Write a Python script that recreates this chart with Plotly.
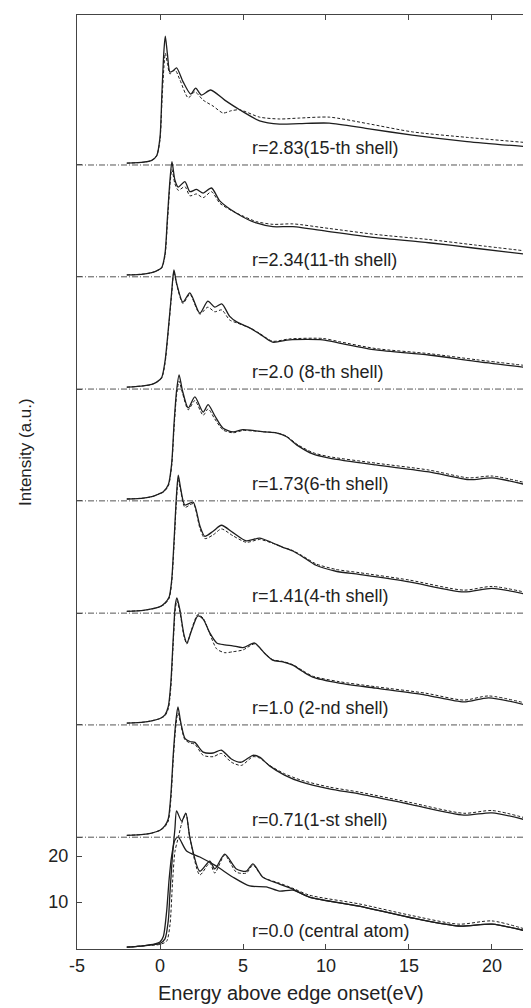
import plotly.graph_objects as go

# ---- data (energy in eV, intensity in a.u. relative to each panel baseline) ----
labels = ["r=0.0 (central atom)", "r=0.71(1-st shell)", "r=1.0 (2-nd shell)",
          "r=1.41(4-th shell)", "r=1.73(6-th shell)", "r=2.0 (8-th shell)",
          "r=2.34(11-th shell)", "r=2.83(15-th shell)"]
offsets = [0.0, 24.1, 48.5, 72.8, 97.2, 121.5, 145.9, 170.2]

# central atom (three curves)
c0_x_a = [-2, -1, -0.3, 0, 0.3, 0.5, 0.6, 0.75, 0.9, 1.0, 1.3, 1.56, 1.8, 2.4, 3.0, 3.3, 3.9, 4.6, 5.2, 5.6, 6.2, 7.2, 8.0, 9.0, 12, 15, 18, 20, 22.3]
c0_y_a = [0.2, 0.5, 0.8, 1.0, 2.0, 6, 12, 20, 26, 29.8, 27.6, 29.3, 24, 16.7, 18.9, 17.2, 20.4, 17.2, 16.7, 18.3, 15.4, 13.9, 12.8, 11.1, 9.1, 6.7, 4.8, 5.2, 3.5]
c0_x_b = [-2, -1, 0, 0.4, 0.6, 0.75, 0.9, 1.1, 1.3, 1.56, 1.8, 2.4, 3.0, 3.3, 3.9, 4.6, 5.2, 5.6, 6.2, 7.2, 8.0, 9.0, 12, 15, 18, 20, 22.3]
c0_y_b = [0.2, 0.5, 0.8, 1.5, 5, 14, 21, 24, 27, 29.3, 24, 15.9, 18.5, 16.3, 20.2, 16.5, 16.3, 18.0, 15.4, 14.1, 13.0, 11.5, 9.6, 7.2, 5.2, 5.9, 3.8]
c0_x_c = [-2, -1, -0.3, 0, 0.2, 0.4, 0.55, 0.7, 0.9, 1.1, 1.6, 2.4, 3.4, 4.4, 5.4, 6.4, 7.2, 8.0, 9.0, 12, 15, 18, 20, 22.3]
c0_y_c = [0.2, 0.5, 0.9, 1.3, 2.5, 8, 15, 20, 23.5, 24.1, 21.1, 19.8, 17.8, 15.4, 13.5, 13.3, 12.4, 12.6, 11.1, 9.1, 6.7, 4.8, 5.2, 3.5]

# r = 0.71
s1_x = [-2, -1, -0.5, 0, 0.3, 0.5, 0.65, 0.8, 0.95, 1.08, 1.25, 1.5, 1.8, 2.1, 2.6, 3.2, 3.7, 4.3, 4.9, 5.6, 6.0, 6.6, 7.5, 8.5, 10.2, 12, 15, 18.3, 20, 22.3]
s1_y = [0.4, 0.6, 0.9, 1.5, 2.5, 4, 9, 18, 25, 28.3, 25, 21.5, 20.8, 20.6, 18.5, 18.3, 18.9, 17, 16.3, 17.8, 17.4, 15.5, 13.5, 12, 10.5, 9.4, 7.2, 4.8, 5.3, 3.5]
s1_yd = [0.4, 0.6, 0.9, 1.5, 2.3, 3.5, 8, 17, 24, 27.0, 24.5, 21.2, 20.5, 20.2, 17.8, 17.5, 18.2, 16.3, 15.6, 17.5, 17.2, 15.6, 13.8, 12.4, 10.9, 9.8, 7.6, 5.2, 5.8, 3.9]

# r = 1.0
s2_x = [-2, -1, -0.5, 0, 0.3, 0.5, 0.65, 0.8, 0.92, 1.02, 1.2, 1.45, 1.62, 1.9, 2.28, 2.6, 3.0, 3.42, 3.9, 4.38, 5.0, 5.7, 6.3, 6.78, 7.4, 8.0, 8.6, 9.2, 10.8, 13, 16, 18.3, 19.8, 22.3]
s2_y = [0.4, 0.6, 0.9, 1.4, 2.2, 4, 9, 19, 26, 27.6, 25, 19.5, 17.8, 20.5, 23.7, 23, 20, 17.8, 17.4, 17.2, 16.8, 17.8, 15.6, 14.1, 13.7, 13.0, 11.6, 10.4, 9.1, 8.0, 6.5, 5.0, 5.9, 4.1]
s2_yd = [0.4, 0.6, 0.9, 1.4, 2.0, 3.5, 8, 18, 25, 27.0, 24.5, 19.2, 17.6, 20.8, 24.0, 23.2, 19.8, 16.5, 15.7, 15.9, 16.3, 17.6, 15.6, 14.2, 13.8, 13.1, 11.8, 10.6, 9.4, 8.3, 6.9, 5.4, 6.3, 4.5]

# r = 1.41
s3_x = [-2, -1, -0.5, 0, 0.3, 0.55, 0.7, 0.85, 1.0, 1.1, 1.25, 1.5, 2.0, 2.4, 2.7, 3.2, 3.7, 4.4, 5.2, 6.0, 6.7, 7.4, 8.0, 8.7, 9.4, 10.6, 12, 15, 18.3, 20, 22.3]
s3_y = [0.4, 0.6, 0.9, 1.4, 2.2, 3.5, 7, 16, 26, 30, 27, 23.5, 24.1, 19, 16.7, 17.8, 19.1, 17.5, 15.7, 16.3, 15.4, 14.3, 13.5, 12, 10.4, 9.1, 8.4, 6.8, 4.6, 5.4, 3.9]
s3_yd = [0.4, 0.6, 0.9, 1.4, 2.0, 3.2, 6.5, 15, 25, 29, 26.5, 23.0, 23.8, 18.5, 16.2, 17.0, 18.3, 16.8, 15.4, 16.0, 15.3, 14.3, 13.6, 12.2, 10.7, 9.5, 8.8, 7.2, 5.0, 5.8, 4.3]

# r = 1.73
s4_x = [-2, -1, -0.5, -0.2, 0.2, 0.5, 0.7, 0.85, 1.0, 1.15, 1.35, 1.7, 2.1, 2.6, 2.9, 3.3, 3.8, 4.4, 5.0, 5.6, 6.3, 7.0, 7.6, 8.3, 9.2, 10.2, 13, 16.2, 18.6, 20, 22.3]
s4_y = [0.4, 0.6, 0.9, 1.3, 2.0, 3.5, 8, 17, 24, 27.4, 24, 20.2, 22.6, 19.3, 20.9, 18.5, 15.8, 15.0, 15.5, 15.3, 15.0, 14.8, 14.0, 12.0, 10.2, 9.3, 7.8, 6.3, 4.6, 5.0, 3.3]
s4_yd = [0.4, 0.6, 0.9, 1.3, 1.9, 3.2, 7.5, 16, 23, 26.0, 23.5, 19.8, 21.8, 18.6, 20.0, 17.8, 15.4, 14.8, 15.3, 15.2, 15.0, 14.8, 14.1, 12.2, 10.5, 9.6, 8.2, 6.7, 5.0, 5.4, 3.7]

# r = 2.0
s5_x = [-2, -1, -0.5, -0.2, 0.1, 0.3, 0.5, 0.7, 0.84, 1.0, 1.38, 1.8, 2.4, 2.88, 3.3, 3.72, 4.2, 4.62, 5.4, 6.0, 6.78, 7.8, 9.8, 10.8, 13, 16.2, 19, 22.3]
s5_y = [0.4, 0.7, 1.0, 1.5, 2.5, 6, 13, 21, 25.9, 23, 18.9, 20.9, 16.5, 19.1, 17.8, 18.5, 15.8, 14.6, 13.3, 12, 10.2, 10.7, 10.7, 10.0, 8.5, 7.4, 6.0, 4.6]
s5_yd = [0.4, 0.7, 1.0, 1.5, 2.4, 5.5, 12.5, 20.5, 25.5, 22.8, 18.6, 20.6, 16.3, 17.8, 16.8, 17.2, 15.0, 14.4, 13.3, 12.1, 10.4, 10.9, 11.0, 10.3, 8.8, 7.7, 6.4, 5.0]

# r = 2.34
s6_x = [-2, -1, -0.5, -0.2, 0.1, 0.3, 0.45, 0.6, 0.72, 0.9, 1.1, 1.5, 1.8, 2.2, 2.6, 3.1, 3.6, 4.3, 5.0, 5.8, 6.8, 8.0, 10.2, 13, 16.2, 19, 22.3]
s6_y = [0.4, 0.6, 0.9, 1.3, 2.0, 5, 13, 21, 25, 21, 19.5, 20.7, 18.5, 19.0, 18.2, 19.3, 16.5, 14.5, 13.0, 11.7, 10.9, 10.9, 9.8, 8.5, 7.4, 6.2, 4.8]
s6_yd = [0.4, 0.6, 0.9, 1.3, 1.9, 4.5, 12, 20, 23.3, 20.2, 18.8, 19.6, 17.6, 18.0, 17.2, 18.5, 16.0, 14.4, 13.2, 12.0, 11.4, 11.5, 10.5, 9.2, 8.1, 6.9, 5.5]

# r = 2.83
s7_x = [-2, -1, -0.5, -0.2, 0, 0.12, 0.24, 0.32, 0.45, 0.6, 0.8, 1.0, 1.4, 1.85, 2.15, 2.5, 3.05, 3.9, 4.8, 6.0, 7.2, 8.4, 10.2, 12.5, 15.2, 18.5, 22.3]
s7_y = [0.4, 0.6, 1.0, 2.0, 6, 16, 25, 28, 24, 20.2, 20.5, 21.1, 18, 15.4, 16.7, 15.2, 16.3, 14.1, 12.0, 9.6, 8.9, 9.0, 9.1, 7.9, 6.5, 5.1, 3.9]
s7_xd = [-2, -1, -0.5, -0.2, 0, 0.12, 0.24, 0.32, 0.45, 0.6, 0.9, 1.2, 1.7, 2.1, 2.6, 3.2, 3.8, 4.3, 4.8, 6.0, 7.2, 8.4, 10.2, 12.5, 15.2, 18.5, 22.3]
s7_yd = [0.4, 0.6, 1.0, 2.0, 5.5, 14, 21.5, 24.3, 22, 19.8, 20.7, 18.5, 14.6, 15.9, 14.1, 12.8, 11.3, 11.8, 12.0, 10.4, 10.0, 10.2, 10.4, 9.0, 7.2, 6.0, 4.8]

shells = [
    (s1_x, s1_y, s1_x, s1_yd),
    (s2_x, s2_y, s2_x, s2_yd),
    (s3_x, s3_y, s3_x, s3_yd),
    (s4_x, s4_y, s4_x, s4_yd),
    (s5_x, s5_y, s5_x, s5_yd),
    (s6_x, s6_y, s6_x, s6_yd),
    (s7_x, s7_y, s7_xd, s7_yd),
]

x_ticks = [-5, 0, 5, 10, 15, 20]
x_tick_text = ["-5", "0", "5", "10", "15", "20"]
y_ticks = [10, 20]

LINE = "#1e1e1e"
SM = 0.7
FONT = "Liberation Sans, Arial, sans-serif"
Y_RANGE = [-0.2, 202.8]

fig = go.Figure()

def add_pair(xs, ys, xd, yd, off):
    fig.add_trace(go.Scatter(x=xd, y=[v + off for v in yd], mode="lines",
                             line=dict(color=LINE, width=1, dash="3px,2px", shape="spline", smoothing=SM),
                             hoverinfo="skip", showlegend=False))
    fig.add_trace(go.Scatter(x=xs, y=[v + off for v in ys], mode="lines",
                             line=dict(color=LINE, width=1.3, shape="spline", smoothing=SM),
                             hoverinfo="skip", showlegend=False))

# central atom
fig.add_trace(go.Scatter(x=c0_x_b, y=c0_y_b, mode="lines",
                         line=dict(color=LINE, width=1, dash="3px,2px", shape="spline", smoothing=SM),
                         hoverinfo="skip", showlegend=False))
fig.add_trace(go.Scatter(x=c0_x_a, y=c0_y_a, mode="lines",
                         line=dict(color=LINE, width=1.3, shape="spline", smoothing=SM),
                         hoverinfo="skip", showlegend=False))
fig.add_trace(go.Scatter(x=c0_x_c, y=c0_y_c, mode="lines",
                         line=dict(color=LINE, width=1.3, shape="spline", smoothing=SM),
                         hoverinfo="skip", showlegend=False, yaxis="y2"))

for (xs, ys, xd, yd), off in zip(shells, offsets[1:]):
    add_pair(xs, ys, xd, yd, off)

# baselines (dash-dot) for shells
for off in offsets[1:]:
    fig.add_shape(type="line", xref="paper", x0=0, x1=1, yref="y", y0=off, y1=off,
                  line=dict(color="#555555", width=1, dash="6px,2px,1px,2px"))

# panel labels
for lab, off in zip(labels, offsets):
    fig.add_annotation(x=5.45, y=off + 3.7, xref="x", yref="y", text=lab, showarrow=False,
                       xanchor="left", yanchor="middle",
                       font=dict(family=FONT, size=18, color="#222"))

# axis titles (paper coords; plot area spans page px 77..531 x 15..949)
fig.add_annotation(x=(291 - 77) / 454, y=(949 - 993) / 934, xref="paper", yref="paper",
                   text="Energy above edge onset(eV)", showarrow=False, xanchor="center", yanchor="middle",
                   font=dict(family=FONT, size=20, color="#222"))
fig.add_annotation(x=(25 - 77) / 454, y=(949 - 452) / 934, xref="paper", yref="paper",
                   text="Intensity (a.u.)", showarrow=False, textangle=-90, xanchor="center", yanchor="middle",
                   font=dict(family=FONT, size=17, color="#222"))

# the page body has an 8px margin, so the figure is sized 523x1000 and placed at (8, 8)
fig.update_layout(
    width=523, height=1000,
    margin=dict(l=69, r=0, t=7, b=59),
    paper_bgcolor="white", plot_bgcolor="white",
    font=dict(family=FONT, size=18, color="#222"),
    xaxis=dict(range=[-5, 22.35], tickvals=x_ticks, ticktext=x_tick_text,
               ticks="inside", ticklen=5, tickcolor="#444",
               showline=True, linecolor="#444", linewidth=1, mirror="ticks",
               showgrid=False, zeroline=False, tickfont=dict(size=18)),
    yaxis=dict(range=Y_RANGE,
               tickvals=y_ticks + offsets[1:],
               ticktext=[str(v) for v in y_ticks] + [""] * len(offsets[1:]),
               ticks="inside", ticklen=5, tickcolor="#444",
               showline=True, linecolor="#444", linewidth=1, mirror=False,
               showgrid=False, zeroline=False, tickfont=dict(size=18), ticklabelstandoff=4),
    yaxis2=dict(range=Y_RANGE, overlaying="y", side="right",
                tickvals=y_ticks, ticks="inside", ticklen=4, tickcolor="#444",
                showticklabels=False, showline=False, showgrid=False, zeroline=False),
)

fig.write_html("out.html")
